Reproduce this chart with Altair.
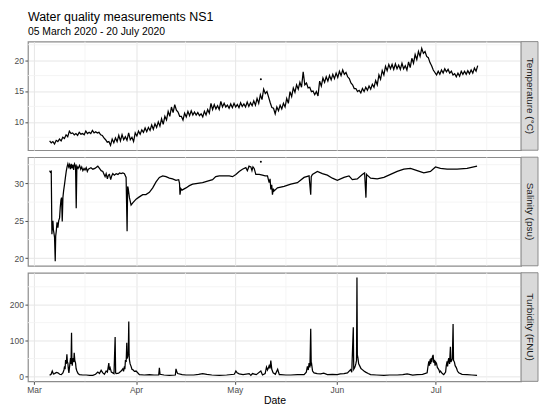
import altair as alt
import pandas as pd

# ---------------- data ----------------
# Temperature (°C), every 12 h starting 2020-03-05 18:00
temp_start = "2020-03-05 18:00"
temp_values = [
    6.9, 6.6, 6.8, 6.4, 7.0, 6.8, 7.2, 6.9, 7.5, 7.3,
    7.9, 7.6, 8.5, 8.1, 8.2, 7.9, 8.1, 7.8, 8.3, 8.0,
    8.1, 7.9, 8.5, 8.1, 8.3, 8.1, 8.6, 8.2, 8.4, 8.2,
    8.3, 7.9, 7.8, 7.4, 7.1, 6.7, 6.8, 6.2, 7.2, 6.6,
    7.4, 6.8, 7.8, 6.9, 7.9, 7.1, 7.6, 7.0, 8.2, 7.1,
    7.5, 6.8, 8.2, 7.7, 8.5, 8.0, 8.7, 8.3, 9.0, 8.4,
    9.1, 8.6, 9.5, 8.8, 9.7, 9.1, 10.0, 9.3, 10.5, 9.6,
    10.9, 10.3, 11.7, 10.9, 12.4, 11.5, 12.8, 11.9, 11.6, 10.9,
    10.9, 10.3, 11.4, 10.8, 11.7, 11.0, 11.8, 11.1, 11.6, 11.1,
    11.5, 11.0, 11.3, 10.8, 11.7, 11.1, 12.0, 11.4, 13.0, 12.0,
    12.8, 12.1, 12.6, 12.0, 13.3, 12.4, 13.0, 12.4, 12.7, 12.2,
    12.9, 12.3, 13.0, 12.4, 12.8, 12.3, 13.1, 12.5, 12.9, 12.4,
    13.2, 12.5, 13.1, 12.6, 13.4, 12.7, 13.8, 13.0, 14.4, 13.6,
    15.3, 14.6, 14.9, 14.0, 13.1, 12.3, 12.2, 11.3, 12.4, 11.8,
    12.7, 12.1, 13.0, 12.4, 13.8, 13.0, 14.9, 14.1, 15.5, 14.8,
    16.0, 15.3, 16.4, 15.6, 18.1, 16.0, 16.3, 15.5, 15.6, 14.9,
    15.0, 14.4, 14.9, 14.2, 16.6, 15.8, 17.1, 16.4, 17.3, 16.6,
    17.5, 16.8, 17.7, 17.0, 17.9, 17.2, 18.2, 17.5, 18.4, 17.7,
    18.0, 17.3, 17.0, 16.3, 16.0, 15.4, 15.4, 14.9, 15.1, 14.7,
    15.4, 14.9, 15.6, 15.1, 15.8, 15.3, 16.1, 15.6, 16.7, 16.0,
    17.6, 16.9, 18.3, 17.6, 19.0, 18.3, 19.3, 18.6, 19.3, 18.5,
    19.4, 18.6, 19.2, 18.5, 19.5, 18.6, 19.1, 18.4, 19.7, 18.8,
    20.3, 19.5, 20.9, 20.1, 21.4, 20.6, 21.9, 21.1, 21.4, 20.6,
    20.4, 19.6, 19.1, 18.4, 18.0, 17.6, 18.2, 17.7, 18.4, 17.9,
    18.6, 18.1, 18.5, 17.9, 18.2, 17.6, 17.8, 17.3, 17.9, 17.4,
    18.2, 17.7, 18.2, 17.7, 18.3, 17.8, 18.4, 17.9, 18.7, 18.2,
    19.1,
]
# isolated readings (days since 2020-03-01)
temp_out_day = [68.9]
temp_out_val = [16.9]

# Salinity (psu): days since 2020-03-01 and values
sal_day = [
    4.75, 5.0, 5.25, 5.45, 5.6, 5.76, 5.9, 6.06, 6.25, 6.46, 6.6, 6.77, 7.0, 7.27,
    7.5, 7.78, 7.98, 8.2, 8.38, 8.59, 8.79, 9.0, 9.29, 9.55, 9.8, 10.05, 10.3,
    10.55, 10.81, 11.05, 11.31, 11.55, 11.82, 12.05, 12.32, 12.63, 12.83, 13.03,
    13.4, 13.84, 14.2, 14.5, 14.85, 15.2, 15.5, 15.86, 16.2, 16.5, 16.87, 17.3,
    17.88, 18.5, 19.39, 19.9, 20.4, 20.91, 21.3, 21.6, 21.92, 22.3, 22.6, 22.93,
    23.3, 23.6, 23.94, 24.4, 24.95, 25.5, 26.0, 26.46, 27.0, 27.47, 27.98, 28.28,
    28.45, 28.59, 28.99, 29.49, 30.0, 31.01, 32.0, 33.03, 34.0, 35.05, 36.06,
    37.07, 38.08, 39.09, 40.1, 41.11, 42.1, 43.13, 43.94, 44.2, 44.34, 44.6,
    44.95, 46.16, 47.2, 48.18, 49.7, 51.21, 52.7, 54.24, 55.2, 56.26, 57.8,
    59.29, 60.3, 61.31, 62.32, 63.3, 64.34, 64.8, 65.3, 65.86, 66.2, 66.5, 66.87,
    67.37, 68.4, 69.39, 70.2, 70.91, 71.41, 71.7, 71.92, 72.2, 72.42, 72.7,
    72.93, 73.94, 75.96, 77.98, 80.0, 82.02, 83.54, 84.04, 84.2, 84.55, 86.06,
    87.58, 89.09, 90.61, 92.12, 94.14, 95.66, 96.67, 98.18, 99.7, 100.4, 100.81,
    101.0, 101.21, 102.22, 104.24, 106.26, 108.28, 110.3, 112.32, 114.34, 116.36,
    118.38, 120.4, 121.92, 123.43, 125.45, 128.48, 131.52, 134.55,
]
sal_val = [
    31.7, 31.5, 31.6, 23.2, 24.5, 25.0, 23.8, 23.4, 22.8, 19.6, 23.0, 23.6, 24.8, 24.1,
    25.0, 25.4, 26.8, 27.8, 28.1, 24.9, 28.1, 29.0, 29.9, 30.8, 31.6, 32.2, 32.6,
    32.2, 32.5, 31.9, 32.6, 32.0, 32.5, 31.8, 32.6, 32.3, 26.7, 32.3,
    32.0, 32.4, 31.9, 32.2, 31.7, 32.0, 31.8, 32.1, 31.6, 31.9, 32.0, 32.1,
    31.9, 32.0, 32.3, 32.0, 31.7, 31.6, 31.2, 30.9, 31.3, 30.6, 31.1, 31.2,
    30.5, 31.0, 31.3, 31.1, 31.3, 31.2, 31.4, 31.3, 31.4, 31.3, 30.8, 23.6,
    29.6, 29.4, 28.1, 27.1, 27.4, 27.9, 28.2, 28.5, 28.5, 28.8, 29.4,
    30.2, 30.8, 31.0, 30.9, 30.7, 30.6, 30.4, 30.5, 30.0, 28.5, 29.3,
    29.1, 29.4, 29.7, 29.9, 30.0, 30.1, 30.3, 30.5, 30.9, 31.0, 31.0,
    31.0, 30.9, 31.2, 31.6, 31.9, 32.1, 31.7, 32.3, 32.2, 31.7, 32.2, 32.0,
    31.2, 31.2, 31.1, 31.0, 31.0, 30.1, 30.6, 29.2, 29.8, 28.5, 29.3,
    29.0, 29.4, 29.6, 29.9, 30.1, 30.8, 31.0, 28.5, 30.9, 31.2, 31.6,
    31.3, 31.1, 30.7, 30.4, 30.8, 31.0, 30.5, 30.6, 31.2, 31.4, 28.1,
    31.2, 31.1, 30.7, 30.6, 30.8, 31.2, 31.6, 31.9, 32.0, 31.7,
    31.4, 31.6, 32.2, 32.0, 31.9, 31.9, 32.0, 32.3,
]
sal_out_day = [68.9]
sal_out_val = [32.9]

# Turbidity (FNU): days since 2020-03-01 and values
turb_day = [
    4.75, 5.2, 5.56, 5.9, 6.26, 6.8, 7.27, 7.8, 8.28, 8.79, 9.1, 9.29, 9.45, 9.6,
    9.8, 10.0, 10.15, 10.3, 10.45, 10.61, 10.85, 11.11, 11.25, 11.41, 11.52, 11.62,
    11.78, 11.92, 12.08, 12.22, 12.4, 12.63, 12.8, 13.03, 13.4, 13.84, 14.8, 15.86,
    16.9, 17.88, 18.7, 19.39, 19.9, 20.4, 20.91, 21.4, 21.92, 22.3, 22.73, 22.9,
    23.13, 23.5, 23.94, 24.3, 24.65, 24.8, 24.95, 25.7, 26.46, 26.97, 27.2, 27.47,
    27.6, 27.78, 28.0, 28.18, 28.3, 28.48, 28.65, 28.79, 28.9, 28.99, 29.2, 29.49,
    29.75, 30.0, 30.5, 31.01, 32.02, 33.5, 35.05, 36.5, 37.88, 38.08, 38.28, 39.5,
    41.11, 42.93, 43.13, 43.4, 43.64, 45.0, 46.16, 48.5, 50.0, 51.21, 52.5, 54.0,
    56.26, 58.5, 60.81, 61.1, 61.31, 61.7, 62.32, 63.5, 65.35, 65.86, 66.36, 67.5,
    68.89, 69.39, 70.2, 70.61, 70.91, 71.2, 71.41, 71.7, 71.92, 72.22, 72.63, 73.3,
    74.0, 74.5, 74.95, 76.5, 77.98, 80.0, 82.02, 82.7, 83.03, 83.3, 83.54, 83.8,
    84.04, 84.2, 84.34, 84.6, 85.05, 86.0, 87.07, 88.0, 89.09, 90.6, 92.12, 93.0,
    94.14, 95.2, 96.16, 96.5, 96.97, 97.1, 97.37, 97.6, 97.78, 97.95, 98.08, 98.2,
    98.38, 98.6, 98.99, 99.3, 99.7, 100.2, 100.71, 101.5, 102.22, 104.0, 106.26,
    108.0, 110.3, 112.0, 113.33, 115.0, 116.36, 118.0, 119.39, 119.6, 119.9, 120.1,
    120.3, 120.45, 120.61, 120.8, 121.0, 121.21, 121.4, 121.62, 121.8, 122.0,
    122.22, 122.5, 122.93, 123.2, 123.43, 124.0, 124.44, 125.0, 125.2, 125.45,
    125.6, 125.8, 125.96, 126.2, 126.46, 126.6, 126.87, 127.05, 127.27, 127.4,
    127.68, 127.9, 128.28, 128.6, 128.99, 130.0, 131.52, 133.0, 134.55,
]
turb_val = [
    3, 6, 15, 7, 8, 11, 10, 6, 5, 10, 18, 28, 20, 46,
    35, 62, 40, 37, 20, 10, 30, 51, 35, 122, 40, 30,
    45, 51, 40, 66, 45, 37, 22, 15, 8, 5, 4, 4,
    3, 3, 6, 12, 8, 17, 10, 6, 15, 12, 37, 18,
    24, 12, 10, 8, 110, 10, 8, 9, 15, 21, 14, 28,
    20, 46, 40, 94, 50, 55, 70, 153, 60, 46, 35, 28,
    20, 19, 14, 15, 5, 4, 5, 4, 4, 24, 6, 4,
    3, 4, 21, 12, 8, 5, 4, 4, 6, 8, 6, 4,
    3, 4, 6, 11, 15, 10, 7, 5, 8, 3, 8, 5,
    15, 4, 8, 26, 18, 24, 30, 22, 44, 20, 10, 6,
    20, 5, 5, 4, 4, 5, 5, 12, 28, 18, 37, 25,
    133, 30, 33, 15, 10, 8, 7, 9, 5, 6, 5, 7,
    8, 10, 19, 12, 137, 20, 24, 30, 37, 45, 276, 60,
    51, 35, 28, 22, 19, 15, 12, 8, 5, 4, 3,
    4, 4, 5, 7, 4, 5, 6, 10, 25, 42, 30,
    48, 35, 51, 40, 55, 60, 38, 46, 30, 40,
    37, 25, 19, 12, 15, 8, 5, 12, 30, 42,
    28, 45, 51, 35, 83, 40, 45, 50, 146, 45,
    40, 30, 24, 15, 10, 6, 5, 4, 3,
]

# axis ticks
month_ticks = [3, 4, 5, 6, 7]
x_minor = ["2020-03-16T12:00:00", "2020-04-16T00:00:00", "2020-05-16T12:00:00",
           "2020-06-16T00:00:00", "2020-07-16T12:00:00"]
temp_ticks, temp_minor = [10, 15, 20], [7.5, 12.5, 17.5, 22.5]
sal_ticks, sal_minor = [20, 25, 30], [22.5, 27.5, 32.5]
turb_ticks, turb_minor = [0, 100, 200], [50, 150, 250]

# ---------------- build ----------------
T0 = pd.Timestamp("2020-03-01")


def day_dates(days):
    return [(T0 + pd.Timedelta(days=d)).strftime("%Y-%m-%dT%H:%M:%S") for d in days]


temp_df = pd.DataFrame({
    "date": pd.date_range(temp_start, periods=len(temp_values), freq="12h").strftime("%Y-%m-%dT%H:%M:%S"),
    "v": temp_values})
temp_out = pd.DataFrame({"date": day_dates(temp_out_day), "v": temp_out_val})
sal_df = pd.DataFrame({"date": day_dates(sal_day), "v": sal_val})
sal_out = pd.DataFrame({"date": day_dates(sal_out_day), "v": sal_out_val})
turb_df = pd.DataFrame({"date": day_dates(turb_day), "v": turb_val})

W, H = 495, 109
STRIP = 17
FONT = "Liberation Sans"
GRID = "#e6e6e6"
MINOR = "#f2f2f2"

x_scale = alt.Scale(domain=[alt.DateTime(year=2020, month=2, date=28, hours=4),
                            alt.DateTime(year=2020, month=7, date=26, hours=22)])
x_vals = [alt.DateTime(year=2020, month=m, date=1) for m in month_ticks]


def panel(df, y_dom, y_ticks, y_minor, label, bottom=False, out=None, title=None):
    if bottom:
        xaxis = alt.Axis(values=x_vals, format="%b", title="Date", grid=True,
                         domain=False, tickSize=3, labelPadding=1.5, titlePadding=1)
    else:
        xaxis = alt.Axis(values=x_vals, labels=False, ticks=False, domain=False,
                         title=None, grid=True)
    yaxis = alt.Axis(values=y_ticks, title=None, grid=True, domain=False,
                     tickSize=3, labelPadding=1.5)
    y_scale = alt.Scale(domain=y_dom, nice=False, zero=False)

    xm = alt.Chart(pd.DataFrame({"d": x_minor})).mark_rule(
        color=MINOR, strokeWidth=0.8).encode(x=alt.X("d:T", scale=x_scale, axis=xaxis))
    ym = alt.Chart(pd.DataFrame({"m": y_minor})).mark_rule(
        color=MINOR, strokeWidth=0.8).encode(y=alt.Y("m:Q", scale=y_scale, axis=yaxis))
    line = alt.Chart(df).mark_line(color="black", strokeWidth=1.25).encode(
        x=alt.X("date:T", scale=x_scale, axis=xaxis),
        y=alt.Y("v:Q", scale=y_scale, axis=yaxis))
    layers = [xm, ym, line]
    if out is not None:
        layers.append(alt.Chart(out).mark_circle(color="black", size=4, opacity=1).encode(
            x=alt.X("date:T", scale=x_scale, axis=xaxis),
            y=alt.Y("v:Q", scale=y_scale, axis=yaxis)))
    one = pd.DataFrame({"a": [0]})
    strip = alt.Chart(one).mark_rect(fill="#d9d9d9", stroke="#8c8c8c", strokeWidth=1).encode(
        x=alt.value(W), x2=alt.value(W + STRIP), y=alt.value(0), y2=alt.value(H))
    stext = alt.Chart(one).mark_text(angle=90, fontSize=10, color="#1a1a1a", font=FONT,
                                     align="center", baseline="middle").encode(
        x=alt.value(W + STRIP / 2), y=alt.value(H / 2), text=alt.value(label))
    layers += [strip, stext]
    props = dict(width=W, height=H)
    if title is not None:
        props["title"] = title
    return alt.layer(*layers).properties(**props)


title = alt.TitleParams(
    text="Water quality measurements NS1",
    subtitle="05 March 2020 - 20 July 2020",
    anchor="start", frame="group", font=FONT, subtitleFont=FONT,
    fontSize=12.5, subtitleFontSize=10.4, fontWeight="normal",
    color="black", subtitleColor="black", offset=4, subtitlePadding=3)

p1 = panel(temp_df, [5.4, 23.0], temp_ticks, temp_minor, "Temperature (°C)",
           out=temp_out, title=title)
p2 = panel(sal_df, [19.0, 33.5], sal_ticks, sal_minor, "Salinity (psu)", out=sal_out)
p3 = panel(turb_df, [-13.7, 289], turb_ticks, turb_minor, "Turbidity (FNU)", bottom=True)

chart = alt.vconcat(p1, p2, p3, spacing=3).properties(
    padding={"left": 0, "top": 2, "right": 2, "bottom": 0}
).configure_view(
    stroke="#8c8c8c", strokeWidth=1.2
).configure_axis(
    gridColor=GRID, gridWidth=1, tickColor="#4d4d4d", labelColor="#4d4d4d",
    labelFont=FONT, labelFontSize=8.5, titleFont=FONT, titleFontSize=10.5,
    titleColor="black", titleFontWeight="normal"
)

chart.save("out.html", embed_options={"renderer": "svg", "actions": False})
